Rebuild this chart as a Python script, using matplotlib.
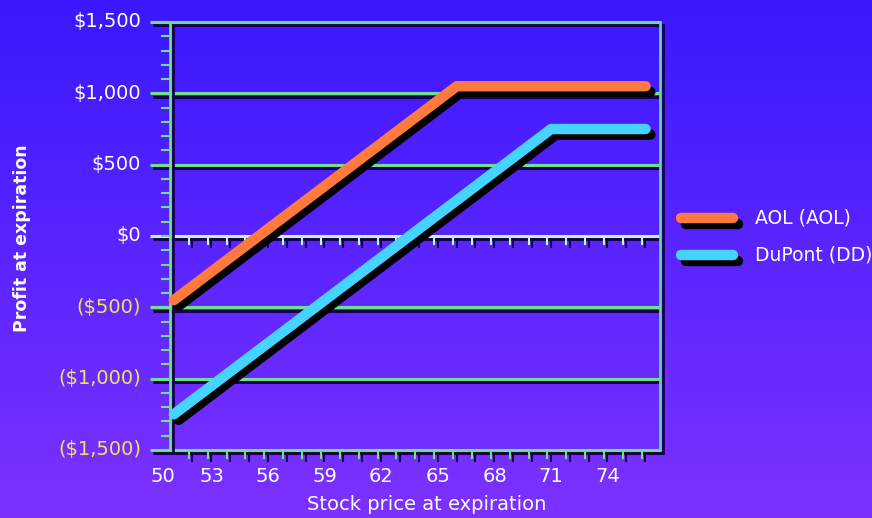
import numpy as np
import matplotlib
matplotlib.use("Agg")
import matplotlib.pyplot as plt
import matplotlib.patheffects as pe

# ---- data ----
aol_price = [51, 66, 76]
aol_profit = [-450, 1050, 1050]
dd_price = [51, 71, 76]
dd_profit = [-1250, 750, 750]
series_names = ["AOL (AOL)", "DuPont (DD)"]
x_tick_labels = ["50", "53", "56", "59", "62", "65", "68", "71", "74"]
x_tick_values = [50.4, 53, 56, 59, 62, 65, 68, 71, 74]
y_tick_values = [-1500, -1000, -500, 0, 500, 1000, 1500]
y_tick_labels = ["($1,500)", "($1,000)", "($500)", "$0", "$500", "$1,000", "$1,500"]

ORANGE = "#ff7a3c"
CYAN = "#44d4ff"
GRID = "#6fe08c"
ZERO = "#c8f5d8"
YELLOW = "#f2e35c"

W, H = 872, 518
fig = plt.figure(figsize=(W / 100, H / 100), dpi=100)

# background gradient
bg = fig.add_axes([0, 0, 1, 1], zorder=-10)
top = np.array([58, 24, 255]) / 255
bot = np.array([124, 50, 255]) / 255
t = np.linspace(0, 1, 256)[:, None]
grad = top[None, :] * (1 - t) + bot[None, :] * t
bg.imshow(grad[:, None, :], aspect="auto", extent=[0, 1, 0, 1])
bg.set_axis_off()

L, R, T, B = 170, 660, 22, 450
ax = fig.add_axes([L / W, 1 - B / H, (R - L) / W, (B - T) / H])
ax.patch.set_alpha(0)
x0 = 50.8
x1 = x0 + (R - L) / 18.87
ax.set_xlim(x0, x1)
ax.set_ylim(-1500, 1500)
for s in ax.spines.values():
    s.set_visible(False)
ax.set_xticks([])
ax.set_yticks([])

shadow = [pe.SimpleLineShadow(offset=(3.5, -4), shadow_color="black", alpha=1.0), pe.Normal()]
shadow_thin = [pe.SimpleLineShadow(offset=(2.5, -2.5), shadow_color="#150050", alpha=1.0), pe.Normal()]

ext = 20 / 18.87  # gridlines extend left of the axis

# horizontal grid lines
for v in y_tick_values:
    col = ZERO if v == 0 else GRID
    ax.plot([x0 - ext, x1], [v, v], color=col, lw=2.2, clip_on=False,
            path_effects=shadow_thin, zorder=2, solid_capstyle="butt")

# left axis and right border
ax.plot([x0, x0], [-1500, 1500], color=GRID, lw=2, clip_on=False,
        path_effects=shadow_thin, zorder=2)
ax.plot([x1, x1], [-1500, 1500], color="#62d0b8", lw=2, clip_on=False,
        path_effects=shadow_thin, zorder=2)

# y minor ticks (every 100), pointing left
tlen = 8 / 18.87
for v in range(-1500, 1501, 100):
    ax.plot([x0 - tlen, x0], [v, v], color=GRID, lw=1.5, clip_on=False, zorder=3)

# x minor ticks on zero line and bottom line, pointing down
ulen = 8 * 3000 / (B - T)
xt = x0 + 1
while xt < x1 - 0.3:
    for base, col in ((0, ZERO), (-1500, GRID)):
        ax.plot([xt, xt], [base, base - ulen], color=col, lw=1.5, clip_on=False,
                path_effects=shadow_thin, zorder=3)
    xt += 1

# data lines
ax.plot(aol_price, aol_profit, color=ORANGE, lw=7.5, solid_capstyle="round",
        solid_joinstyle="round", path_effects=shadow, zorder=5, clip_on=False)
ax.plot(dd_price, dd_profit, color=CYAN, lw=7.5, solid_capstyle="round",
        solid_joinstyle="round", path_effects=shadow, zorder=5, clip_on=False)

# y tick labels
for v, lab in zip(y_tick_values, y_tick_labels):
    col = YELLOW if v < 0 else "white"
    ax.annotate(lab, xy=(x0, v), xycoords="data", xytext=(-29, 0),
                textcoords="offset pixels", ha="right", va="center",
                color=col, fontsize=14, annotation_clip=False)

# x tick labels
for v, lab in zip(x_tick_values, x_tick_labels):
    ax.annotate(lab, xy=(v, -1500), xycoords="data", xytext=(0, -26),
                textcoords="offset pixels", ha="center", va="center",
                color="white", fontsize=14, annotation_clip=False)

fig.text(427 / W, 1 - 505 / H, "Stock price at expiration", color="white",
         fontsize=14, ha="center", va="center")
fig.text(22 / W, 1 - 238 / H, "Profit at expiration", color="white",
         fontsize=12.5, fontweight="bold", rotation=90, ha="center", va="center")

# legend
for yy, col, name in ((218, ORANGE, series_names[0]), (255, CYAN, series_names[1])):
    fig.add_artist(matplotlib.lines.Line2D([681 / W, 733 / W], [1 - yy / H, 1 - yy / H],
                                           color=col, lw=7.5, solid_capstyle="round",
                                           path_effects=shadow))
    fig.text(755 / W, 1 - yy / H, name, color="white", fontsize=13.5,
             ha="left", va="center")

fig.savefig("out.png", dpi=100)
